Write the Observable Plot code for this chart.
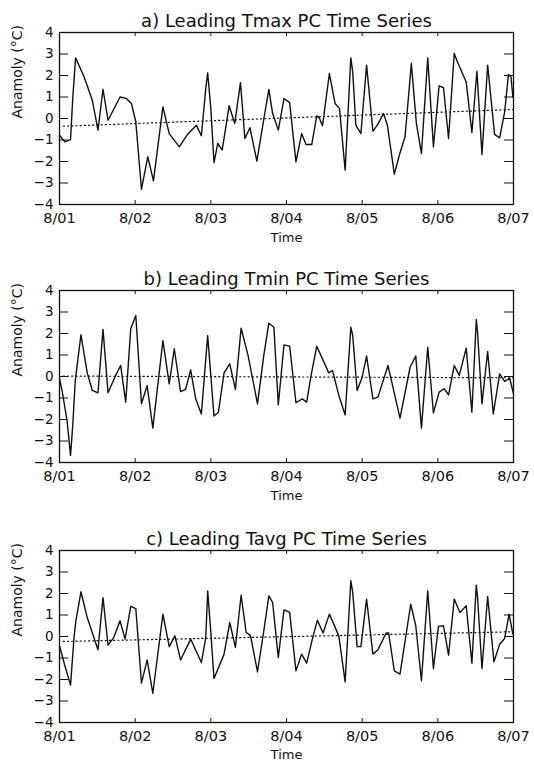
<!DOCTYPE html>
<html>
<head>
<meta charset="utf-8">
<script src="https://cdn.jsdelivr.net/npm/d3@7"></script>
<script src="https://cdn.jsdelivr.net/npm/@observablehq/plot@0.6"></script>
<style>
  html, body { margin: 0; padding: 0; background: #fff; }
  #chart { width: 534px; }
  #chart svg { display: block; font-family: "DejaVu Sans", sans-serif; }
</style>
</head>
<body>
<div id="chart"></div>
<script>
// ---- data (months since Aug 2001, anomaly in °C) ----
const titles = [
  "a) Leading Tmax PC Time Series",
  "b) Leading Tmin PC Time Series",
  "c) Leading Tavg PC Time Series"
];
const xTickMonths = [0, 12, 24, 36, 48, 60, 72];
const xTickLabels = ["8/01", "8/02", "8/03", "8/04", "8/05", "8/06", "8/07"];
const yTicks = [-4, -3, -2, -1, 0, 1, 2, 3, 4];
const yLabel = "Anamoly (°C)";
const xLabel = "Time";

const monthsA = [0, 0.85, 1.75, 2.1, 2.55, 3.9, 5.2, 6.1, 6.9, 7.7, 9.6, 10.6, 11.4, 12.1, 13.0, 14.0, 14.9, 16.4, 17.4, 19.0, 20.3, 21.7, 22.5, 23.2, 23.5, 24.0, 24.5, 25.1, 25.8, 26.9, 27.8, 28.7, 29.4, 30.2, 31.3, 32.4, 33.2, 33.8, 34.7, 35.6, 36.5, 37.5, 38.4, 39.1, 40.0, 40.8, 41.2, 41.7, 42.8, 43.7, 44.4, 45.3, 46.2, 46.5, 47.0, 47.8, 48.7, 49.7, 50.4, 51.4, 52.0, 53.1, 53.9, 54.8, 55.8, 56.6, 57.4, 58.4, 59.3, 60.2, 60.9, 61.7, 62.6, 63.0, 64.5, 65.4, 66.2, 67.0, 67.9, 69.0, 69.8, 70.6, 71.2, 71.6, 71.9, 72];
const valuesA = [-0.78, -1.09, -0.98, 0.93, 2.82, 1.94, 0.85, -0.54, 1.36, -0.08, 1.0, 0.93, 0.7, -0.15, -3.29, -1.78, -2.9, 0.54, -0.7, -1.32, -0.74, -0.31, -0.8, 1.4, 2.12, 0.47, -2.05, -1.16, -1.47, 0.59, -0.23, 1.67, -0.93, -0.43, -1.98, -0.03, 1.35, 0.23, -0.54, 0.93, 0.74, -2.02, -0.7, -1.21, -1.21, 0.12, 0.03, -0.34, 2.09, 0.7, 0.47, -2.4, 2.82, 2.17, -0.31, -0.7, 2.48, -0.59, -0.31, 0.23, -0.31, -2.59, -1.7, -0.85, 2.56, -0.23, -1.63, 2.82, -1.32, 1.52, 1.43, -0.93, 3.02, 2.71, 1.7, -0.65, 2.2, -1.67, 2.48, -0.74, -0.9, 0.31, 2.05, 1.94, 1.0, 1.0];

const monthsB = [0, 0.4, 1.2, 1.75, 2.1, 2.5, 3.4, 4.4, 5.2, 6.1, 6.9, 7.7, 8.9, 9.7, 10.5, 11.3, 12.1, 13.0, 13.9, 14.8, 16.4, 17.4, 18.2, 19.2, 20.0, 20.8, 21.6, 22.5, 23.5, 24.5, 25.2, 26.1, 27.0, 27.9, 28.8, 29.9, 31.4, 32.4, 33.2, 34.0, 34.7, 35.6, 36.5, 37.5, 38.5, 39.2, 39.9, 40.8, 42.7, 43.3, 44.3, 45.3, 46.2, 46.5, 47.2, 48.0, 48.7, 49.7, 50.5, 52.1, 54.0, 55.6, 56.5, 57.4, 58.4, 59.3, 60.2, 61.0, 61.7, 62.6, 63.4, 64.5, 65.4, 66.1, 66.3, 67.0, 67.9, 68.8, 69.8, 70.6, 71.4, 72];
const valuesB = [-0.1, -0.65, -2.05, -3.67, -2.28, -0.19, 1.94, 0.17, -0.65, -0.76, 2.19, -0.76, 0.05, 0.51, -1.19, 2.22, 2.84, -1.27, -0.42, -2.4, 1.67, -0.34, 1.29, -0.7, -0.6, 0.31, -1.04, -1.74, 1.9, -1.84, -1.66, 0.17, 0.59, -0.6, 2.25, 0.98, -1.27, 0.98, 2.48, 2.29, -1.32, 1.47, 1.41, -1.22, -1.04, -1.19, 0.05, 1.41, 0.17, 0.28, -0.88, -1.78, 2.29, 1.9, -0.65, -0.03, 0.95, -1.04, -0.96, 0.51, -1.94, 0.43, 0.95, -2.4, 1.36, -1.69, -0.73, -0.57, -0.85, 0.51, 0.05, 1.32, -1.66, 2.65, 2.06, -1.27, 1.16, -1.74, 0.12, -0.23, -0.08, -0.8];

const monthsC = [0, 0.85, 1.75, 2.3, 2.6, 3.4, 4.4, 6.1, 6.9, 7.7, 8.6, 9.6, 10.4, 11.3, 12.1, 13.0, 13.9, 14.8, 16.4, 17.4, 18.3, 19.2, 20.8, 22.5, 23.2, 23.5, 24.0, 24.5, 26.1, 27.0, 27.9, 28.8, 29.6, 30.3, 31.4, 32.4, 33.2, 33.8, 34.7, 35.6, 36.5, 37.5, 38.4, 39.2, 40.1, 40.9, 41.8, 42.8, 44.3, 45.3, 46.2, 46.5, 47.2, 47.8, 48.7, 49.7, 50.5, 51.8, 52.2, 53.1, 54.0, 55.7, 56.5, 57.4, 58.4, 59.3, 60.1, 60.9, 61.7, 62.6, 63.5, 64.5, 65.4, 66.1, 66.3, 67.0, 67.9, 68.9, 69.8, 70.6, 71.3, 71.9, 72];
const valuesC = [-0.43, -1.36, -2.26, -0.05, 0.73, 2.08, 0.88, -0.62, 1.81, -0.4, -0.05, 0.73, -0.12, 1.4, 1.3, -2.17, -1.09, -2.64, 1.04, -0.47, 0.03, -1.09, -0.12, -1.21, -0.05, 2.12, 0.19, -1.95, -0.82, 0.65, -0.51, 1.92, 0.19, 0.03, -1.64, 0.26, 1.89, 1.58, -0.98, 1.24, 1.12, -1.6, -0.82, -1.24, -0.12, 0.76, 0.16, 1.04, 0.03, -2.11, 2.59, 2.05, -0.47, -0.47, 1.74, -0.82, -0.62, 0.16, 0.16, -1.6, -1.75, 1.5, 0.5, -2.06, 2.12, -1.49, 0.47, 0.5, -0.87, 1.74, 1.12, 1.43, -1.24, 2.39, 1.81, -1.49, 1.86, -1.18, -0.36, -0.09, 1.04, 0.11, 0.16];

// linear trend end points (dotted lines)
const trendMonths = [0.6, 72];
const trendA = [-0.36, 0.42];
const trendB = [0.02, -0.06];
const trendC = [-0.23, 0.22];

// ---- build panels ----
const panels = [
  {title: titles[0], months: monthsA, values: valuesA, trend: trendA},
  {title: titles[1], months: monthsB, values: valuesB, trend: trendB},
  {title: titles[2], months: monthsC, values: valuesC, trend: trendC}
];
const layout = [
  {height: 259, marginTop: 32, marginBottom: 55, timeDy: 37},
  {height: 259, marginTop: 31, marginBottom: 56, timeDy: 37},
  {height: 245, marginTop: 32, marginBottom: 41, timeDy: 36}
];

const W = 534, ML = 59, MR = 21;
const frameW = W - ML - MR;
const frameH = 172;
const ink = "#111";

panels.forEach((p, i) => {
  const series = p.months.map((m, j) => ({m, v: p.values[j]}));
  const trend = trendMonths.map((m, j) => ({m, v: p.trend[j]}));
  const L = layout[i];
  const svg = Plot.plot({
    width: W,
    height: L.height,
    marginLeft: ML,
    marginRight: MR,
    marginTop: L.marginTop,
    marginBottom: L.marginBottom,
    style: {fontFamily: "DejaVu Sans, sans-serif", background: "#fff", color: ink, overflow: "visible"},
    x: {domain: [0, 72], axis: null},
    y: {domain: [-4, 4], axis: null},
    marks: [
      // dotted trend
      Plot.line(trend, {x: "m", y: "v", stroke: ink, strokeWidth: 1.2, strokeDasharray: "1.2,3", clip: true}),
      // series
      Plot.line(series, {x: "m", y: "v", stroke: ink, strokeWidth: 1.4, clip: true}),
      // inward ticks: y left / right
      Plot.tickY(yTicks, {y: d => d, stroke: ink, insetRight: frameW - 9}),
      Plot.tickY(yTicks, {y: d => d, stroke: ink, insetLeft: frameW - 9}),
      // inward ticks: x bottom / top
      Plot.tickX(xTickMonths, {x: d => d, stroke: ink, insetTop: frameH - 4}),
      Plot.tickX(xTickMonths, {x: d => d, stroke: ink, insetBottom: frameH - 4}),
      // y tick labels
      Plot.axisY({ticks: yTicks, tickSize: 0, tickPadding: 6, label: null, fontSize: 13.5, fill: ink}),
      // x tick labels
      Plot.axisX({ticks: xTickMonths, tickFormat: d => xTickLabels[xTickMonths.indexOf(d)], tickSize: 0, tickPadding: 8, label: null, fontSize: 14.5, fill: ink}),
      // axis titles
      Plot.text([xLabel], {text: d => d, frameAnchor: "bottom", dy: L.timeDy, fontSize: 13, fill: ink}),
      Plot.text([yLabel], {text: d => d, frameAnchor: "left", dx: -42, rotate: -90, fontSize: 14, fill: ink}),
      // panel title
      Plot.text([p.title], {text: d => d, frameAnchor: "top", lineAnchor: "bottom", dy: -5.5, fontSize: 18, fill: ink}),
      Plot.frame({stroke: ink, strokeWidth: 1.3})
    ]
  });
  document.getElementById("chart").appendChild(svg);
});
</script>
</body>
</html>
